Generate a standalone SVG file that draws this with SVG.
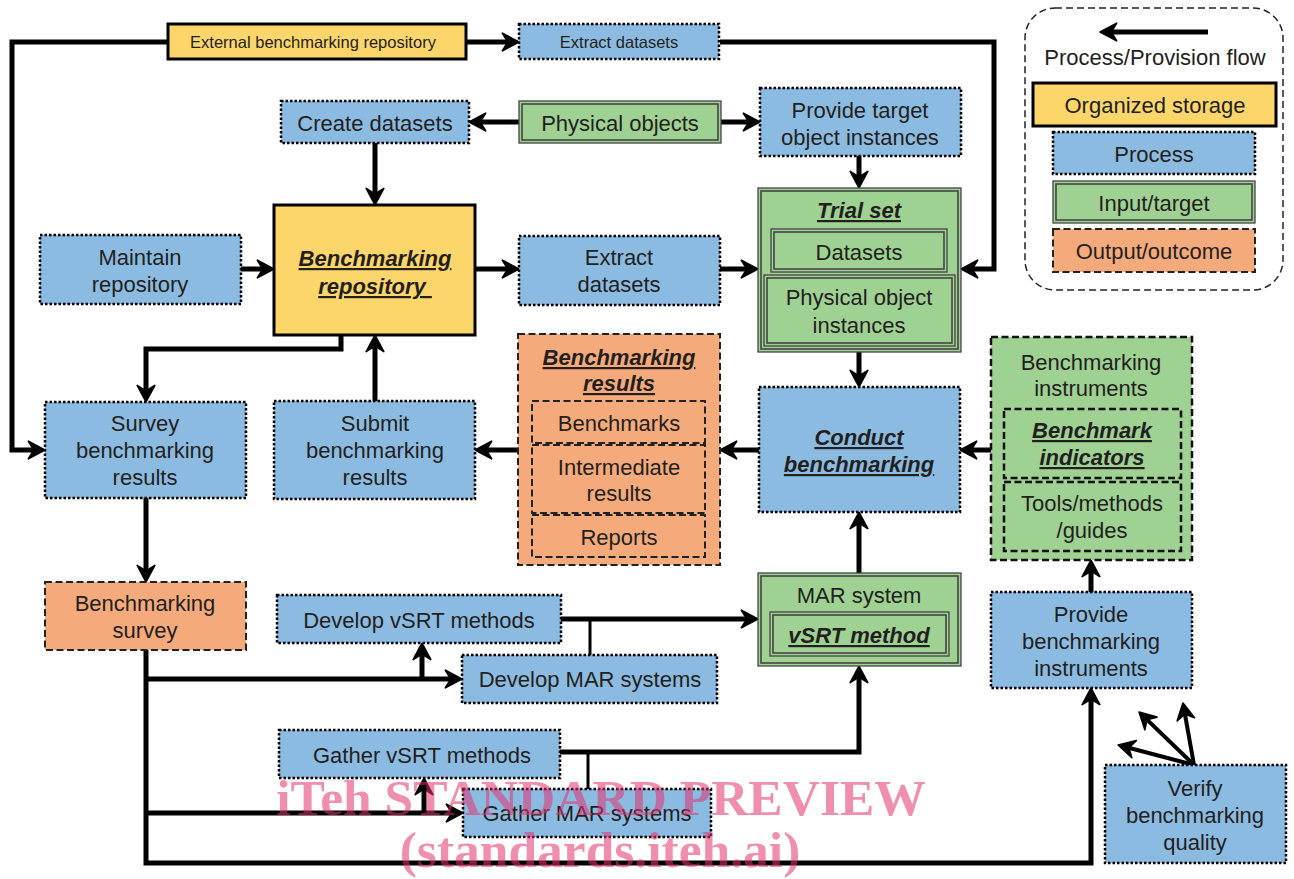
<svg xmlns="http://www.w3.org/2000/svg" width="1294" height="879" viewBox="0 0 1294 879">
<style>
.proc{fill:#8cbbe2;stroke:#000;stroke-width:2.5;stroke-dasharray:2.5 2}
.stor{fill:#fcd66b;stroke:#000;stroke-width:3}
.inp{fill:#9ed192;stroke:#444;stroke-width:1.3}
.inpi{fill:none;stroke:#444;stroke-width:1.6}
.out{fill:#f5aa7b;stroke:#222;stroke-width:2;stroke-dasharray:7 3.5}
.outi{fill:none;stroke:#222;stroke-width:2;stroke-dasharray:7 3.5}
.inst{fill:#9ed192;stroke:#111;stroke-width:2.5;stroke-dasharray:7 3.5}
.insti{fill:none;stroke:#111;stroke-width:2.5;stroke-dasharray:7 3.5}
.t{font-family:"Liberation Sans",Arial,sans-serif;font-size:22px;fill:#231f20;text-anchor:middle}
.s{font-size:16.5px}
.b{font-weight:bold;font-style:italic;text-decoration:underline}
.c{fill:none;stroke:#000;stroke-width:5;stroke-linejoin:miter}
.a{marker-end:url(#ah)}
.thin{stroke-width:3}
.v{stroke-width:4}
.wm{font-family:"Liberation Serif","Times New Roman",serif;font-weight:bold;font-size:51.5px;fill:#e4326e;opacity:0.55;text-anchor:middle}
</style>
<defs>
<marker id="ah" markerUnits="userSpaceOnUse" markerWidth="22" markerHeight="22" viewBox="-2 -2 20 20" refX="6" refY="8" orient="auto">
<path d="M0,0 L15,8 L0,16 L5,8 Z" fill="#000" stroke="#000" stroke-width="1.5" stroke-linejoin="round"/>
</marker>
</defs>
<rect width="1294" height="879" fill="#fff"/>

<g id="connectors">
<path class="c a" d="M168,42 H12 V450 H35"/>
<path class="c a" d="M466,42 H509"/>
<path class="c a" d="M720,42 H994 V269 H971"/>
<path class="c a" d="M519,122 H479"/>
<path class="c a" d="M721,122 H750"/>
<path class="c a" d="M375,143 V195"/>
<path class="c a" d="M859,156 V178"/>
<path class="c a" d="M241,269 H264"/>
<path class="c a" d="M475,269 H509"/>
<path class="c a" d="M720,269 H748"/>
<path class="c a" d="M859,352 V377"/>
<path class="c a" d="M991,450 H970"/>
<path class="c a" d="M759,450 H730"/>
<path class="c a" d="M518,450 H485"/>
<path class="c a" d="M375,401 V345"/>
<path class="c a" d="M341,335 V349 H146 V392"/>
<path class="c a" d="M146,498 V572"/>
<path class="c a" d="M146,650 V863 H1091 V698"/>
<path class="c a" d="M146,679 H452"/>
<path class="c a" d="M422,679 V653"/>
<path class="c a" d="M561,619 H748"/>
<path class="c thin" d="M590,619 V655"/>
<path class="c a" d="M560,752 H859 V676"/>
<path class="c thin" d="M588,752 V789"/>
<path class="c a" d="M146,813 H453"/>
<path class="c a" d="M424,813 V788"/>
<path class="c a" d="M859,573 V522"/>
<path class="c a" d="M1091,592 V570"/>
<path class="c v a" d="M1194,765 L1127.7,747.5"/>
<path class="c v a" d="M1194,765 L1146.2,718.9"/>
<path class="c v a" d="M1194,765 L1184.7,712.8"/>
</g>

<g id="legend">
<rect x="1025" y="8" width="258" height="282" rx="30" fill="none" stroke="#222" stroke-width="1.5" stroke-dasharray="7 4"/>
<path class="c a" d="M1208,32 H1110"/>
<text class="t" x="1155" y="65">Process/Provision flow</text>
<rect class="stor" x="1033" y="83" width="243" height="43"/>
<text class="t" x="1155" y="113">Organized storage</text>
<rect class="proc" x="1053" y="132" width="202" height="42"/>
<text class="t" x="1154" y="162">Process</text>
<rect class="inp" x="1053" y="181" width="202" height="42"/>
<rect class="inpi" x="1056" y="184" width="196" height="36"/>
<text class="t" x="1154" y="211">Input/target</text>
<rect class="out" x="1053" y="229" width="202" height="43"/>
<text class="t" x="1154" y="259">Output/outcome</text>
</g>

<g id="external-repo">
<rect class="stor" x="168" y="24" width="298" height="35"/>
<text class="t s" x="313" y="48">External benchmarking repository</text>
</g>
<g id="extract-top">
<rect class="proc" x="519" y="24" width="200" height="35"/>
<text class="t s" x="619" y="48">Extract datasets</text>
</g>
<g id="create-datasets">
<rect class="proc" x="281" y="101" width="188" height="42"/>
<text class="t" x="375" y="131">Create datasets</text>
</g>
<g id="physical-objects">
<rect class="inp" x="519" y="101" width="202" height="42"/>
<rect class="inpi" x="522" y="104" width="196" height="36"/>
<text class="t" x="620" y="131">Physical objects</text>
</g>
<g id="provide-target">
<rect class="proc" x="760" y="88" width="201" height="68"/>
<text class="t" x="860" y="118">Provide target</text>
<text class="t" x="860" y="145">object instances</text>
</g>
<g id="trial-set">
<rect class="inp" x="758" y="188" width="203" height="164"/>
<rect class="inpi" x="761" y="191" width="197" height="158"/>
<text class="t b" x="859" y="218">Trial set</text>
<rect class="inp" x="771" y="229" width="176" height="43"/>
<rect class="inpi" x="774" y="232" width="170" height="37"/>
<text class="t" x="859" y="260">Datasets</text>
<rect class="inp" x="764" y="275" width="191" height="71"/>
<rect class="inpi" x="767" y="278" width="185" height="65"/>
<text class="t" x="859" y="305">Physical object</text>
<text class="t" x="859" y="333">instances</text>
</g>
<g id="maintain">
<rect class="proc" x="40" y="235" width="201" height="69"/>
<text class="t" x="140" y="265">Maintain</text>
<text class="t" x="140" y="292">repository</text>
</g>
<g id="bench-repo">
<rect class="stor" x="274" y="205" width="201" height="130"/>
<text class="t b" x="375" y="266">Benchmarking</text>
<text class="t b" x="375" y="294" xml:space="preserve">repository </text>
</g>
<g id="extract-mid">
<rect class="proc" x="519" y="236" width="201" height="69"/>
<text class="t" x="619" y="265">Extract</text>
<text class="t" x="619" y="292">datasets</text>
</g>
<g id="bench-results">
<rect class="out" x="518" y="334" width="202" height="231"/>
<text class="t b" x="619" y="365">Benchmarking</text>
<text class="t b" x="619" y="391">results</text>
<rect class="outi" x="532" y="401" width="173" height="42"/>
<text class="t" x="619" y="431">Benchmarks</text>
<rect class="outi" x="532" y="445" width="173" height="68"/>
<text class="t" x="619" y="475">Intermediate</text>
<text class="t" x="619" y="501">results</text>
<rect class="outi" x="532" y="515" width="173" height="42"/>
<text class="t" x="619" y="545">Reports</text>
</g>
<g id="conduct">
<rect class="proc" x="759" y="387" width="201" height="125"/>
<text class="t b" x="859" y="445">Conduct</text>
<text class="t b" x="859" y="472">benchmarking</text>
</g>
<g id="bench-instruments">
<rect class="inst" x="991" y="337" width="201" height="223"/>
<text class="t" x="1091" y="370">Benchmarking</text>
<text class="t" x="1091" y="396">instruments</text>
<rect class="insti" x="1004" y="409" width="177" height="69"/>
<text class="t b" x="1092" y="438">Benchmark</text>
<text class="t b" x="1092" y="465">indicators</text>
<rect class="insti" x="1004" y="482" width="177" height="69"/>
<text class="t" x="1092" y="511">Tools/methods</text>
<text class="t" x="1092" y="538">/guides</text>
</g>
<g id="survey">
<rect class="proc" x="45" y="402" width="201" height="96"/>
<text class="t" x="145" y="431">Survey</text>
<text class="t" x="145" y="458">benchmarking</text>
<text class="t" x="145" y="485">results</text>
</g>
<g id="submit">
<rect class="proc" x="274" y="401" width="201" height="98"/>
<text class="t" x="375" y="431">Submit</text>
<text class="t" x="375" y="458">benchmarking</text>
<text class="t" x="375" y="485">results</text>
</g>
<g id="bench-survey">
<rect class="out" x="45" y="582" width="201" height="68"/>
<text class="t" x="145" y="611">Benchmarking</text>
<text class="t" x="145" y="638">survey</text>
</g>
<g id="develop-vsrt">
<rect class="proc" x="277" y="595" width="284" height="48"/>
<text class="t" x="419" y="628">Develop vSRT methods</text>
</g>
<g id="develop-mar">
<rect class="proc" x="462" y="655" width="255" height="48"/>
<text class="t" x="590" y="687">Develop MAR systems</text>
</g>
<g id="mar-system">
<rect class="inp" x="758" y="573" width="203" height="93"/>
<rect class="inpi" x="761" y="576" width="197" height="87"/>
<text class="t" x="859" y="603">MAR system</text>
<rect class="inp" x="770" y="612" width="179" height="44"/>
<rect class="inpi" x="773" y="615" width="173" height="38"/>
<text class="t b" x="859" y="643">vSRT method</text>
</g>
<g id="provide-instruments">
<rect class="proc" x="991" y="592" width="201" height="96"/>
<text class="t" x="1091" y="622">Provide</text>
<text class="t" x="1091" y="649">benchmarking</text>
<text class="t" x="1091" y="676">instruments</text>
</g>
<g id="gather-vsrt">
<rect class="proc" x="279" y="730" width="281" height="48"/>
<text class="t" x="422" y="763">Gather vSRT methods</text>
</g>
<g id="gather-mar">
<rect class="proc" x="463" y="789" width="248" height="48"/>
<text class="t" x="587" y="821">Gather MAR systems</text>
</g>
<g id="verify">
<rect class="proc" x="1105" y="765" width="181" height="98"/>
<text class="t" x="1195" y="796">Verify</text>
<text class="t" x="1195" y="823">benchmarking</text>
<text class="t" x="1195" y="850">quality</text>
</g>

<g id="watermark">
<text class="wm" x="601" y="815">iTeh STANDARD PREVIEW</text>
<text class="wm" x="600" y="867">(standards.iteh.ai)</text>
</g>
</svg>
